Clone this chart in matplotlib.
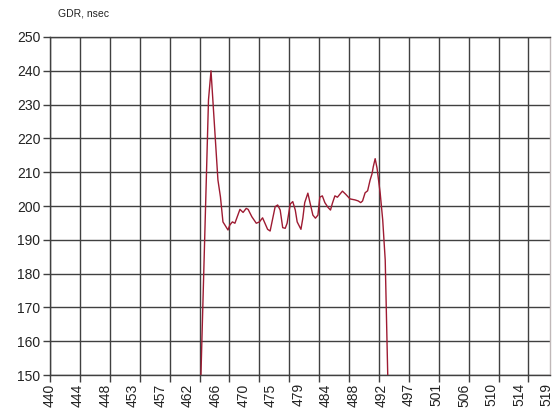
import numpy as np
import matplotlib
matplotlib.use("Agg")
import matplotlib.pyplot as plt

plt.rcParams['font.family'] = ['Liberation Sans', 'DejaVu Sans']

# ---- data ----
wavelength = [464.0, 465.2, 465.6, 466.7, 467.1, 467.5, 468.3, 468.6, 469.0, 469.4,
              470.2, 470.7, 471.2, 471.5, 472.1, 472.8, 473.3, 473.8, 474.6, 475.0,
              475.8, 476.2, 476.6, 477.0, 477.4, 477.7, 478.2, 478.6, 479.0, 479.3,
              479.9, 480.2, 480.5, 481.0, 481.3, 481.8, 482.2, 482.6, 482.9, 483.3,
              483.7, 484.2, 484.6, 484.9, 485.3, 485.7, 486.5, 487.0, 487.7, 488.5,
              489.0, 489.4, 489.7, 490.1, 490.5, 490.9, 491.2, 491.4, 491.7, 492.0,
              492.5, 492.9, 493.3, 493.7]
gdr = [150.0, 231.4, 240.0, 207.7, 202.7, 195.3, 192.9, 194.4, 195.3, 194.9,
       199.0, 198.1, 199.3, 199.0, 196.8, 194.9, 195.3, 196.5, 193.1, 192.6,
       199.8, 200.3, 198.8, 193.6, 193.4, 194.9, 200.6, 201.3, 198.8, 195.3,
       193.1, 196.4, 201.0, 203.8, 201.3, 197.3, 196.4, 197.3, 202.6, 203.0,
       201.0, 199.6, 198.8, 200.8, 203.0, 202.6, 204.4, 203.5, 202.1, 201.8,
       201.5, 201.0, 201.5, 203.9, 204.5, 207.7, 209.5, 211.6, 214.0, 211.2,
       203.8, 195.9, 184.0, 150.0]

x_labels = ['440', '444', '448', '453', '457', '462', '466', '470', '475', '479',
            '484', '488', '492', '497', '501', '506', '510', '514', '519']
y_ticks = [150, 160, 170, 180, 190, 200, 210, 220, 230, 240, 250]

# ---- figure ----
W, H = 554, 415
fig = plt.figure(figsize=(W / 100, H / 100), dpi=100)
ax = fig.add_axes([50 / W, 1 - 375 / H, 500 / W, 338 / H])

grid_col = '#404040'
ax.plot(wavelength, gdr, color='#9e1b32', lw=1.0, zorder=3, clip_on=True)

ax.set_xlim(440, 519.5)
ax.set_ylim(150, 250)

# gridline / tick-mark positions (major), label positions (minor)
ax.xaxis.remove_overlapping_locs = False
grid_pos = np.arange(440, 519.0, 4.755)
label_pos = np.linspace(440, 519, len(x_labels))
ax.set_xticks(grid_pos)
ax.set_xticklabels([''] * len(grid_pos))
ax.set_xticks(label_pos, minor=True)
ax.set_xticklabels(x_labels, minor=True, rotation=90, fontsize=10, color='#222222')
ax.tick_params(axis='x', which='major', direction='out', length=5, width=1, color=grid_col)
ax.tick_params(axis='x', which='minor', length=0, pad=6)

ax.set_yticks(y_ticks)
ax.set_yticklabels([str(v) for v in y_ticks], fontsize=10, color='#222222')
ax.tick_params(axis='y', direction='out', length=5, width=1, color=grid_col, pad=2)

ax.grid(True, which='major', axis='both', color=grid_col, lw=1.0, zorder=1)
ax.set_axisbelow(True)

for s in ['left', 'bottom', 'top']:
    ax.spines[s].set_color(grid_col)
    ax.spines[s].set_linewidth(1.0)
ax.spines['right'].set_color('#c0b8b8')
ax.spines['right'].set_linewidth(1.0)

fig.text(58 / W, 1 - 13 / H, 'GDR, nsec', fontsize=7.5, color='#222222',
         ha='left', va='center')

fig.savefig('out.png', dpi=100)
